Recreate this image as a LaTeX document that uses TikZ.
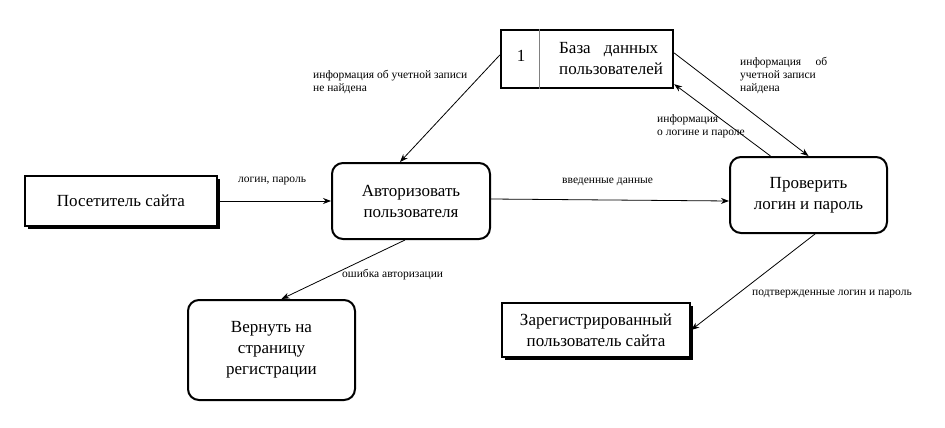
\documentclass[tikz,border=0pt]{standalone}
\usepackage{fontspec}
\setmainfont{Liberation Serif}
\usetikzlibrary{arrows.meta,shadows}
\begin{document}
\begin{tikzpicture}[x=1pt,y=-1pt,
  big/.style={font=\fontsize{17}{21}\selectfont, align=center},
  small/.style={font=\fontsize{11.5}{13}\selectfont, align=left, inner sep=0pt, anchor=west},
  ext/.style={draw, line width=2.4pt, fill=white, big, inner sep=0pt,
    drop shadow={shadow xshift=3pt, shadow yshift=-3pt, fill=black, opacity=1}},
  proc/.style={draw, line width=2pt, rounded corners=11pt, fill=white, big, inner sep=0pt},
  flow/.style={draw, line width=0.8pt, -{Stealth[length=8pt,width=6pt]}}
]
\useasboundingbox (0,0) rectangle (945,428);

\node[ext, minimum width=192pt, minimum height=50pt] (vis) at (121,201) {Посетитель сайта};
\node[proc, minimum width=158pt, minimum height=76pt] (auth) at (411,201) {Авторизовать\\пользователя};
\node[proc, minimum width=157pt, minimum height=76pt] (chk) at (808.5,195) {Проверить\\логин и пароль};
\node[proc, minimum width=167pt, minimum height=100pt] (ret) at (271.5,350) {Вернуть на\\страницу\\регистрации};
\node[ext, minimum width=188pt, minimum height=54pt] (reg) at (596,330) {Зарегистрированный\\пользователь сайта};

\node[draw, line width=2.4pt, minimum width=172pt, minimum height=58pt, inner sep=0pt] (db) at (587,59) {};
\draw[line width=0.6pt, gray] ([xshift=39pt]db.north west) -- ([xshift=39pt]db.south west);
\node[big] (dbn) at (521,56) {1};
\node[big, anchor=west, align=left, inner sep=0pt] (dbt) at (559,59)
  {\makebox[99pt][s]{База\hfill данных}\\пользователей};

\draw[flow] (vis.east) -- (vis.east -| auth.west);
\draw[flow] ([yshift=2pt]auth.east) -- ([yshift=-6pt]chk.west);
\draw[flow] ([yshift=4pt]db.west) -- ([xshift=-11pt]auth.north);
\draw[flow] ([yshift=6pt]db.east) -- (chk.north);
\draw[flow] ([xshift=-38pt]chk.north) -- ([yshift=5pt]db.south east);
\draw[flow] ([xshift=-6pt]auth.south) -- ([xshift=10pt]ret.north);
\draw[flow] ([xshift=6.5pt]chk.south) -- (reg.east);

\node[small] (l1) at (238,181) {логин, пароль};
\node[small] (l2) at (562,182) {введенные данные};
\node[small] (l3) at (313,81.5) {информация об учетной записи\\не найдена};
\node[small] (l4) at (740,75) {\makebox[87pt][s]{информация\hfill об}\\учетной записи\\найдена};
\node[small] (l5) at (657,126) {информация\\о логине и пароле};
\node[small] (l6) at (342,275) {ошибка авторизации};
\node[small] (l7) at (752,294) {подтвержденные логин и пароль};
\end{tikzpicture}
\end{document}
